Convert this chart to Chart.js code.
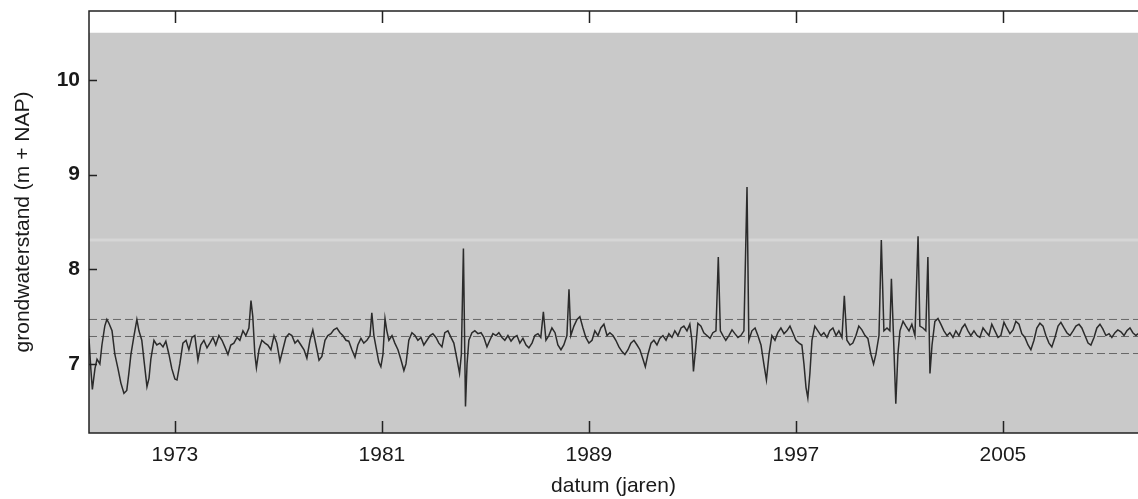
<!DOCTYPE html>
<html>
<head>
<meta charset="utf-8">
<title>grondwaterstand</title>
<script src="https://cdn.jsdelivr.net/npm/chart.js@4.4.1/dist/chart.umd.min.js"></script>
<style>
	html, body { margin: 0; padding: 0; background: #fff; }
	#wrap { width: 1138px; height: 499px; }
</style>
</head>
<body>
<div id="wrap"><canvas id="chart" width="1138" height="499"></canvas></div>
<script>
const years = [
	1969.68, 1969.75, 1969.81, 1969.91, 1969.99, 1970.10, 1970.18, 1970.29, 1970.37, 1970.45,
	1970.57, 1970.68, 1970.80, 1970.91, 1971.03, 1971.14, 1971.22, 1971.30, 1971.42, 1971.53,
	1971.61, 1971.72, 1971.80, 1971.92, 1972.00, 1972.07, 1972.19, 1972.30, 1972.42, 1972.54,
	1972.65, 1972.77, 1972.88, 1973.00, 1973.08, 1973.19, 1973.31, 1973.43, 1973.54, 1973.66,
	1973.77, 1973.89, 1974.00, 1974.12, 1974.24, 1974.35, 1974.47, 1974.58, 1974.70, 1974.82,
	1974.93, 1975.05, 1975.16, 1975.28, 1975.40, 1975.51, 1975.63, 1975.74, 1975.86, 1975.94,
	1976.01, 1976.09, 1976.15, 1976.25, 1976.36, 1976.48,

	1976.59, 1976.71, 1976.83, 1976.94, 1977.06, 1977.17, 1977.29, 1977.41, 1977.52, 1977.64,
	1977.75, 1977.87, 1977.99, 1978.10, 1978.22, 1978.33, 1978.45, 1978.57, 1978.68, 1978.80,
	1978.91, 1979.03, 1979.14, 1979.26, 1979.38, 1979.49, 1979.61, 1979.72, 1979.84, 1979.96,
	1980.07, 1980.19, 1980.30, 1980.42, 1980.54, 1980.61, 1980.69, 1980.77, 1980.88, 1980.96,
	1981.04, 1981.12, 1981.19, 1981.27, 1981.39, 1981.50, 1981.62, 1981.73, 1981.85, 1981.93,
	1982.04, 1982.16, 1982.28, 1982.39, 1982.51, 1982.62, 1982.74, 1982.86, 1982.97, 1983.09,

	1983.20, 1983.32, 1983.43, 1983.55, 1983.67, 1983.78, 1983.90, 1984.00, 1984.07, 1984.15,
	1984.23, 1984.29, 1984.36, 1984.48, 1984.59, 1984.71, 1984.83, 1984.94, 1985.06, 1985.17,
	1985.29, 1985.41, 1985.52, 1985.64, 1985.75, 1985.87, 1985.99, 1986.10, 1986.22, 1986.33,
	1986.45, 1986.57, 1986.68, 1986.80, 1986.91, 1987.03, 1987.14, 1987.24, 1987.34, 1987.45,
	1987.57, 1987.69, 1987.80, 1987.92, 1988.03, 1988.15, 1988.23, 1988.30, 1988.42, 1988.54,
	1988.65, 1988.77, 1988.88, 1989.00, 1989.12, 1989.23, 1989.35, 1989.46, 1989.58, 1989.70,
	1989.81, 1989.93,

	1990.04, 1990.16, 1990.28, 1990.39, 1990.51, 1990.62, 1990.74, 1990.86, 1990.97, 1991.09,
	1991.18, 1991.28, 1991.40, 1991.51, 1991.63, 1991.74, 1991.86, 1991.98, 1992.09, 1992.21,
	1992.32, 1992.44, 1992.56, 1992.67, 1992.79, 1992.90, 1992.98, 1993.04, 1993.12, 1993.21,
	1993.33, 1993.44, 1993.56, 1993.68, 1993.79, 1993.91, 1994.00, 1994.08, 1994.18, 1994.29,
	1994.41, 1994.53, 1994.64, 1994.76, 1994.87, 1994.99, 1995.11, 1995.18, 1995.30, 1995.42,
	1995.53, 1995.65, 1995.76, 1995.86, 1995.96, 1996.07, 1996.19, 1996.30, 1996.42, 1996.54,
	1996.65,

	1996.77, 1996.88, 1997.00, 1997.12, 1997.23, 1997.31, 1997.39, 1997.46, 1997.54, 1997.62,
	1997.73, 1997.85, 1997.97, 1998.08, 1998.20, 1998.31, 1998.43, 1998.55, 1998.66, 1998.78,
	1998.87, 1998.97, 1999.09, 1999.20, 1999.32, 1999.43, 1999.55, 1999.67, 1999.78, 1999.90,
	2000.00, 2000.09, 2000.21, 2000.30, 2000.40, 2000.52, 2000.63, 2000.69, 2000.77, 2000.86,
	2000.94, 2001.02, 2001.14, 2001.25, 2001.37, 2001.48, 2001.60, 2001.72, 2001.79, 2001.91,
	2002.02, 2002.10, 2002.18, 2002.26, 2002.37, 2002.49, 2002.60, 2002.72, 2002.84, 2002.95,
	2003.07, 2003.18, 2003.30, 2003.42,

	2003.53, 2003.65, 2003.76, 2003.88, 2004.00, 2004.11, 2004.23, 2004.34, 2004.46, 2004.57,
	2004.69, 2004.81, 2004.92, 2005.04, 2005.15, 2005.27, 2005.39, 2005.50, 2005.62, 2005.73,
	2005.85, 2005.97, 2006.08, 2006.20, 2006.31, 2006.43, 2006.55, 2006.66, 2006.78, 2006.89,
	2007.01, 2007.13, 2007.24, 2007.36, 2007.47, 2007.59, 2007.71, 2007.82, 2007.94, 2008.05,
	2008.17, 2008.29, 2008.40, 2008.52, 2008.63, 2008.75, 2008.86, 2008.98, 2009.10, 2009.21,
	2009.33, 2009.44, 2009.56, 2009.68, 2009.79, 2009.91, 2010.02, 2010.14, 2010.22
];

const levels = [
	7.27, 6.95, 6.73, 6.95, 7.05, 7.00, 7.20, 7.40, 7.47, 7.43,
	7.35, 7.10, 6.95, 6.80, 6.69, 6.72, 6.90, 7.10, 7.30, 7.47,
	7.35, 7.25, 7.05, 6.76, 6.85, 7.05, 7.25, 7.20, 7.22, 7.18,
	7.24, 7.10, 6.95, 6.84, 6.83, 7.00, 7.22, 7.25, 7.15, 7.28,
	7.30, 7.04, 7.20, 7.25, 7.17, 7.22, 7.28, 7.20, 7.30, 7.25,
	7.18, 7.10, 7.20, 7.22, 7.28, 7.25, 7.35, 7.30, 7.38, 7.67,
	7.50, 7.10, 6.96, 7.15, 7.25, 7.22,

	7.20, 7.15, 7.30, 7.22, 7.03, 7.15, 7.28, 7.32, 7.30, 7.22,
	7.25, 7.20, 7.15, 7.06, 7.25, 7.36, 7.20, 7.04, 7.08, 7.25,
	7.30, 7.32, 7.36, 7.38, 7.33, 7.30, 7.25, 7.24, 7.15, 7.07,
	7.20, 7.27, 7.22, 7.25, 7.30, 7.54, 7.30, 7.18, 7.02, 6.97,
	7.10, 7.48, 7.35, 7.25, 7.30, 7.22, 7.15, 7.05, 6.93, 7.00,
	7.25, 7.33, 7.30, 7.25, 7.28, 7.20, 7.25, 7.30, 7.32, 7.28,

	7.22, 7.18, 7.33, 7.35, 7.28, 7.22, 7.05, 6.90, 7.10, 8.22,
	6.55, 7.00, 7.25, 7.33, 7.35, 7.32, 7.33, 7.28, 7.18, 7.25,
	7.32, 7.30, 7.33, 7.28, 7.25, 7.30, 7.24, 7.28, 7.30, 7.22,
	7.27, 7.20, 7.17, 7.22, 7.30, 7.32, 7.28, 7.55, 7.25, 7.30,
	7.38, 7.33, 7.20, 7.15, 7.20, 7.30, 7.79, 7.30, 7.40, 7.47,
	7.50, 7.38, 7.28, 7.22, 7.25, 7.35, 7.30, 7.38, 7.42, 7.30,
	7.33, 7.30,

	7.25, 7.18, 7.13, 7.10, 7.15, 7.22, 7.25, 7.20, 7.15, 7.05,
	6.97, 7.10, 7.22, 7.25, 7.20, 7.27, 7.30, 7.25, 7.32, 7.28,
	7.35, 7.30, 7.38, 7.40, 7.35, 7.42, 7.25, 6.92, 7.15, 7.43,
	7.40, 7.33, 7.30, 7.27, 7.33, 7.35, 8.13, 7.35, 7.30, 7.25,
	7.30, 7.36, 7.32, 7.28, 7.30, 7.35, 8.87, 7.25, 7.35, 7.38,
	7.30, 7.20, 7.00, 6.83, 7.10, 7.30, 7.25, 7.33, 7.38, 7.32,
	7.35,

	7.40, 7.33, 7.25, 7.22, 7.20, 7.00, 6.75, 6.64, 6.90, 7.25,
	7.40, 7.35, 7.30, 7.33, 7.28, 7.35, 7.38, 7.30, 7.35, 7.28,
	7.72, 7.25, 7.20, 7.22, 7.30, 7.40, 7.36, 7.30, 7.27, 7.10,
	7.00, 7.10, 7.30, 8.31, 7.35, 7.38, 7.35, 7.90, 7.30, 6.58,
	7.10, 7.35, 7.45, 7.40, 7.35, 7.42, 7.30, 8.35, 7.40, 7.38,
	7.35, 8.13, 6.90, 7.20, 7.45, 7.48, 7.42, 7.35, 7.30, 7.33,
	7.28, 7.35, 7.30, 7.38,

	7.42, 7.35, 7.30, 7.35, 7.30, 7.28, 7.38, 7.34, 7.30, 7.42,
	7.35, 7.28, 7.30, 7.44, 7.38, 7.32, 7.36, 7.45, 7.42, 7.32,
	7.28, 7.20, 7.15, 7.25, 7.38, 7.43, 7.40, 7.30, 7.22, 7.18,
	7.28, 7.40, 7.44, 7.38, 7.33, 7.30, 7.35, 7.40, 7.42, 7.38,
	7.30, 7.22, 7.20, 7.28, 7.38, 7.42, 7.37, 7.30, 7.32, 7.28,
	7.33, 7.36, 7.34, 7.30, 7.35, 7.38, 7.33, 7.30, 7.32
];

// gestippelde referentieniveaus
const bandLevels = [7.47, 7.29, 7.11];

const yearTicks = [1973, 1981, 1989, 1997, 2005];
const levelTicks = [7, 8, 9, 10];

const xMin = 1969.68;
const xMax = 2010.22;
const yMin = 6.27;
const yMax = 10.73;
const greyTop = 10.5;   // bovenkant van het grijze vlak
const streak = 8.31;    // lichte scanstreep

const FONT = "'Liberation Sans', Arial, Helvetica, sans-serif";

const series = years.map((y, i) => ({x: y, y: levels[i]}));

const bands = bandLevels.map((v) => ({
	data: [{x: xMin, y: v}, {x: xMax, y: v}],
	borderColor: 'rgba(70, 70, 70, 0.75)',
	borderWidth: 1,
	borderDash: [8, 4],
	pointRadius: 0,
	fill: false,
}));

const frame = {
	id: 'frame',
	beforeDraw(chart){
		const {ctx, chartArea: a, scales: {y}} = chart;
		ctx.save();
		ctx.fillStyle = '#fff';
		ctx.fillRect(0, 0, chart.width, chart.height);

		const top = y.getPixelForValue(greyTop);
		ctx.fillStyle = '#c9c9c9';
		ctx.fillRect(a.left, top, a.right - a.left, a.bottom - top);

		const s = y.getPixelForValue(streak);
		ctx.fillStyle = '#d6d6d6';
		ctx.fillRect(a.left, s - 1.5, a.right - a.left, 3);
		ctx.restore();
	},
	afterDraw(chart){
		const {ctx, chartArea: a, scales: {x, y}} = chart;
		ctx.save();
		ctx.strokeStyle = '#222';
		ctx.lineWidth = 1.5;

		ctx.beginPath();
		ctx.moveTo(a.right, a.top);
		ctx.lineTo(a.left, a.top);
		ctx.lineTo(a.left, a.bottom);
		ctx.lineTo(a.right, a.bottom);
		ctx.stroke();

		ctx.beginPath();
		yearTicks.forEach((t) => {
			const px = Math.round(x.getPixelForValue(t)) + 0.5;
			ctx.moveTo(px, a.bottom);
			ctx.lineTo(px, a.bottom - 12);
			ctx.moveTo(px, a.top);
			ctx.lineTo(px, a.top + 12);
		});
		levelTicks.forEach((t) => {
			const py = Math.round(y.getPixelForValue(t)) + 0.5;
			ctx.moveTo(a.left, py);
			ctx.lineTo(a.left + 8, py);
		});
		ctx.stroke();
		ctx.restore();
	}
};

const chart = new Chart(document.getElementById('chart').getContext('2d'), {
	type: 'line',
	data: {
		datasets: [{
			label: 'grondwaterstand',
			data: series,
			borderColor: '#2b2b2b',
			borderWidth: 1.5,
			pointRadius: 0,
			tension: 0,
			fill: false,
		}].concat(bands)
	},
	options: {
		responsive: false,
		animation: false,
		devicePixelRatio: 1,
		layout: {
			padding: {top: 11, left: 0, right: 0, bottom: 0}
		},
		plugins: {
			legend: {display: false},
			tooltip: {enabled: false},
		},
		scales: {
			x: {
				type: 'linear',
				min: xMin,
				max: xMax,
				grid: {display: false, drawTicks: false},
				border: {display: false},
				afterBuildTicks: (scale) => {
					scale.ticks = yearTicks.map((v) => ({value: v}));
				},
				afterFit: (scale) => {
					scale.height = 66;
					scale.paddingLeft = 0;
					scale.paddingRight = 0;
				},
				ticks: {
					color: '#1a1a1a',
					padding: 10,
					maxRotation: 0,
					font: {family: FONT, size: 21},
					callback: (v) => String(v),
				},
				title: {
					display: true,
					text: 'datum (jaren)',
					color: '#1a1a1a',
					padding: {top: 0, bottom: 0},
					font: {family: FONT, size: 21},
				}
			},
			y: {
				type: 'linear',
				min: yMin,
				max: yMax,
				grid: {display: false, drawTicks: false},
				border: {display: false},
				afterBuildTicks: (scale) => {
					scale.ticks = levelTicks.map((v) => ({value: v}));
				},
				afterFit: (scale) => {
					scale.width = 89;
					scale.paddingTop = 0;
					scale.paddingBottom = 0;
				},
				ticks: {
					color: '#1a1a1a',
					padding: 9,
					font: {family: FONT, size: 21, weight: 'bold'},
					callback: (v) => String(v),
				},
				title: {
					display: true,
					text: 'grondwaterstand (m + NAP)',
					color: '#1a1a1a',
					padding: {top: 11, bottom: 0},
					font: {family: FONT, size: 21},
				}
			}
		}
	},
	plugins: [frame]
});
</script>
</body>
</html>
